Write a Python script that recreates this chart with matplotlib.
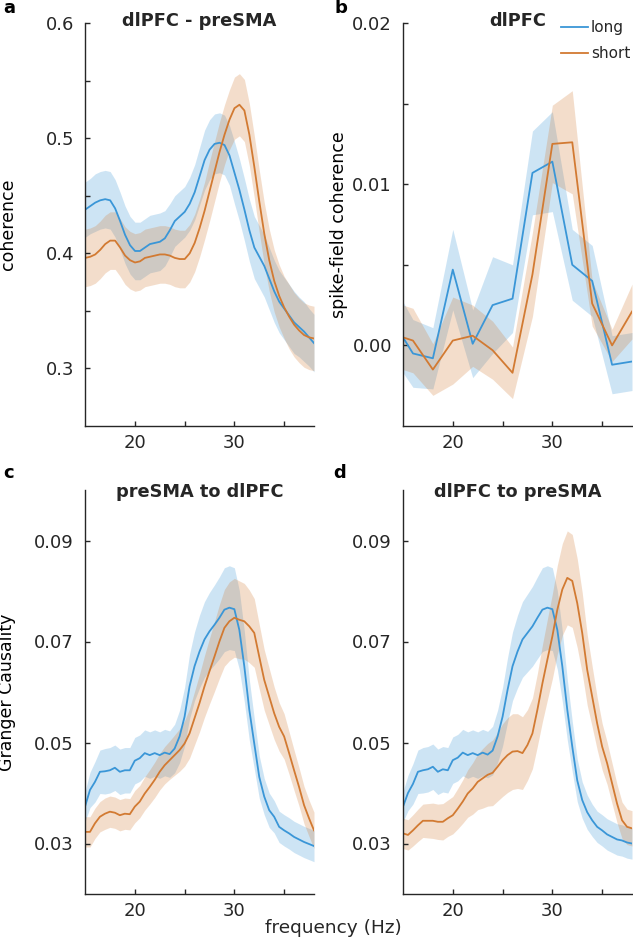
import numpy as np
import matplotlib
matplotlib.use('Agg')
import matplotlib.pyplot as plt

# colours
c_long = '#3a96d7'
c_short = '#d27a32'
c_txt = '#262626'

# ---- panel a: dlPFC - preSMA coherence ----
freq_a = np.arange(15, 38.01, 0.5)
coh_long = [0.438, 0.441, 0.444, 0.446, 0.447, 0.446, 0.439, 0.428, 0.416, 0.407,
            0.402, 0.402, 0.405, 0.408, 0.409, 0.410, 0.413, 0.420, 0.428, 0.432,
            0.436, 0.443, 0.453, 0.467, 0.481, 0.490, 0.495, 0.496, 0.494, 0.485,
            0.470, 0.455, 0.438, 0.420, 0.405, 0.397, 0.389, 0.378, 0.367, 0.358,
            0.352, 0.346, 0.340, 0.336, 0.332, 0.327, 0.322]
coh_long_err = [0.024, 0.024, 0.025, 0.025, 0.025, 0.025, 0.025, 0.025, 0.025, 0.025,
                0.025, 0.025, 0.025, 0.025, 0.025, 0.025, 0.024, 0.023, 0.022, 0.022,
                0.022, 0.023, 0.024, 0.025, 0.026, 0.026, 0.026, 0.026, 0.026, 0.026,
                0.027, 0.027, 0.027, 0.027, 0.027, 0.027, 0.027, 0.027, 0.027, 0.027,
                0.027, 0.027, 0.027, 0.026, 0.026, 0.025, 0.025]
coh_short = [0.396, 0.397, 0.399, 0.403, 0.408, 0.411, 0.411, 0.405, 0.398, 0.394,
             0.392, 0.393, 0.396, 0.397, 0.398, 0.399, 0.399, 0.398, 0.396, 0.395,
             0.395, 0.400, 0.409, 0.422, 0.437, 0.454, 0.471, 0.488, 0.503, 0.516,
             0.526, 0.529, 0.524, 0.503, 0.475, 0.445, 0.417, 0.394, 0.376, 0.363,
             0.353, 0.345, 0.338, 0.333, 0.329, 0.327, 0.326]
coh_short_err = [0.025, 0.025, 0.025, 0.025, 0.025, 0.025, 0.025, 0.025, 0.025, 0.025,
                 0.025, 0.025, 0.025, 0.025, 0.025, 0.025, 0.025, 0.025, 0.025, 0.025,
                 0.025, 0.025, 0.025, 0.025, 0.025, 0.026, 0.026, 0.026, 0.026, 0.026,
                 0.027, 0.027, 0.027, 0.027, 0.027, 0.027, 0.027, 0.027, 0.027, 0.027,
                 0.027, 0.028, 0.028, 0.028, 0.028, 0.028, 0.028]

# ---- panel b: dlPFC spike-field coherence ----
freq_b = np.arange(14, 38.01, 2)
sfc_long = [0.0015, -0.0005, -0.0008, 0.0047, 0.0001, 0.0025, 0.0029,
            0.0107, 0.0114, 0.0050, 0.0040, -0.0012, -0.0010]
sfc_long_err = [0.0023, 0.0021, 0.0019, 0.0025, 0.0021, 0.0030, 0.0021,
                0.0026, 0.0031, 0.0022, 0.0022, 0.0018, 0.0018]
sfc_short = [0.0007, 0.0003, -0.0015, 0.0003, 0.0006, -0.0003, -0.0017,
             0.0044, 0.0125, 0.0126, 0.0026, 0.0000, 0.0021]
sfc_short_err = [0.0020, 0.0020, 0.0016, 0.0027, 0.0019, 0.0018, 0.0016,
                 0.0026, 0.0024, 0.0032, 0.0014, 0.0010, 0.0017]

# ---- panels c/d: Granger causality ----
freq_gc = np.arange(15, 38.01, 0.5)
gc_pre_long = [0.0373, 0.0406, 0.0422, 0.0442, 0.0443, 0.0445, 0.0450, 0.0442, 0.0445, 0.0445,
               0.0464, 0.0469, 0.0479, 0.0475, 0.0479, 0.0475, 0.0480, 0.0477, 0.0488, 0.0512,
               0.0551, 0.0611, 0.0651, 0.0680, 0.0704, 0.0720, 0.0733, 0.0747, 0.0763, 0.0767,
               0.0764, 0.0723, 0.0651, 0.0565, 0.0498, 0.0432, 0.0393, 0.0366, 0.0353, 0.0333,
               0.0326, 0.0320, 0.0313, 0.0308, 0.0303, 0.0299, 0.0295]
gc_pre_short = [0.0323, 0.0323, 0.0340, 0.0353, 0.0359, 0.0363, 0.0361, 0.0356, 0.0359, 0.0358,
                0.0373, 0.0383, 0.0399, 0.0412, 0.0426, 0.0442, 0.0455, 0.0465, 0.0475, 0.0485,
                0.0498, 0.0518, 0.0548, 0.0578, 0.0611, 0.0641, 0.0670, 0.0700, 0.0727, 0.0740,
                0.0747, 0.0743, 0.0740, 0.0730, 0.0717, 0.0670, 0.0624, 0.0591, 0.0558, 0.0531,
                0.0512, 0.0479, 0.0445, 0.0412, 0.0376, 0.0350, 0.0326]
gc_dl_long = [0.0373, 0.0400, 0.0418, 0.0442, 0.0445, 0.0447, 0.0452, 0.0442, 0.0447, 0.0445,
              0.0465, 0.0470, 0.0480, 0.0475, 0.0479, 0.0475, 0.0480, 0.0476, 0.0484, 0.0512,
              0.0551, 0.0604, 0.0651, 0.0680, 0.0704, 0.0717, 0.0730, 0.0747, 0.0763, 0.0767,
              0.0764, 0.0723, 0.0651, 0.0565, 0.0492, 0.0425, 0.0386, 0.0362, 0.0346, 0.0333,
              0.0326, 0.0318, 0.0313, 0.0308, 0.0306, 0.0302, 0.0300]
gc_dl_short = [0.0320, 0.0317, 0.0326, 0.0336, 0.0345, 0.0345, 0.0345, 0.0343, 0.0343, 0.0350,
               0.0356, 0.0369, 0.0383, 0.0399, 0.0409, 0.0422, 0.0429, 0.0436, 0.0440, 0.0452,
               0.0465, 0.0475, 0.0482, 0.0483, 0.0479, 0.0495, 0.0518, 0.0565, 0.0617, 0.0664,
               0.0710, 0.0763, 0.0803, 0.0826, 0.0820, 0.0776, 0.0717, 0.0644, 0.0591, 0.0538,
               0.0492, 0.0459, 0.0419, 0.0379, 0.0346, 0.0333, 0.0330]
gc_long_err = [0.0030, 0.0035, 0.0040, 0.0043, 0.0045, 0.0045, 0.0045, 0.0045, 0.0045, 0.0045,
               0.0046, 0.0046, 0.0046, 0.0046, 0.0046, 0.0046, 0.0046, 0.0046, 0.0048, 0.0052,
               0.0058, 0.0064, 0.0068, 0.0072, 0.0075, 0.0077, 0.0079, 0.0081, 0.0083, 0.0083,
               0.0082, 0.0078, 0.0070, 0.0060, 0.0050, 0.0042, 0.0036, 0.0034, 0.0032, 0.0031,
               0.0031, 0.0031, 0.0031, 0.0031, 0.0031, 0.0031, 0.0031]
gc_pre_short_err = [0.0030, 0.0030, 0.0030, 0.0030, 0.0031, 0.0031, 0.0031, 0.0031, 0.0031, 0.0031,
                    0.0032, 0.0032, 0.0033, 0.0034, 0.0035, 0.0036, 0.0037, 0.0038, 0.0040, 0.0042,
                    0.0045, 0.0049, 0.0053, 0.0057, 0.0061, 0.0065, 0.0069, 0.0073, 0.0076, 0.0078,
                    0.0078, 0.0077, 0.0075, 0.0072, 0.0068, 0.0064, 0.0060, 0.0056, 0.0052, 0.0048,
                    0.0045, 0.0042, 0.0040, 0.0038, 0.0037, 0.0036, 0.0036]
gc_dl_short_err = [0.0030, 0.0030, 0.0031, 0.0032, 0.0033, 0.0034, 0.0035, 0.0035, 0.0036, 0.0036,
                   0.0037, 0.0040, 0.0043, 0.0047, 0.0051, 0.0055, 0.0059, 0.0062, 0.0065, 0.0068,
                   0.0072, 0.0074, 0.0075, 0.0074, 0.0072, 0.0070, 0.0070, 0.0072, 0.0076, 0.0080,
                   0.0084, 0.0088, 0.0091, 0.0093, 0.0092, 0.0088, 0.0080, 0.0070, 0.0060, 0.0052,
                   0.0046, 0.0042, 0.0040, 0.0038, 0.0036, 0.0035, 0.0035]

plt.rcParams['font.family'] = 'DejaVu Sans'
plt.rcParams['text.color'] = c_txt

fig = plt.figure(figsize=(6.33, 9.4), dpi=100)
W, H = 633.0, 940.0


def make_ax(l, r, t, b):
    return fig.add_axes([l / W, 1 - b / H, (r - l) / W, (b - t) / H])


def band(ax, x, m, e, col, label=None):
    m = np.array(m)
    e = np.array(e)
    ax.fill_between(x, m - e, m + e, color=col, alpha=0.25, lw=0)
    ax.plot(x, m, color=col, lw=1.3, label=label)


def style(ax, yticks, ylabels, ylim):
    for s in ['top', 'right']:
        ax.spines[s].set_visible(False)
    for s in ['left', 'bottom']:
        ax.spines[s].set_color(c_txt)
        ax.spines[s].set_linewidth(1.0)
    ax.set_xlim(15, 38)
    ax.set_ylim(*ylim)
    ax.set_xticks([20, 25, 30, 35])
    ax.set_xticklabels(['20', '', '30', ''])
    ax.set_yticks(yticks)
    ax.set_yticklabels(ylabels)
    ax.tick_params(direction='in', length=3.5, width=1.0, colors=c_txt,
                   labelsize=13)
    ax.tick_params(axis='y', pad=8)
    ax.tick_params(axis='x', pad=6)


title_fs = 12.8

# panel a
ax_a = make_ax(85.3, 314, 23, 426)
band(ax_a, freq_a, coh_long, coh_long_err, c_long)
band(ax_a, freq_a, coh_short, coh_short_err, c_short)
style(ax_a, [0.3, 0.35, 0.4, 0.45, 0.5, 0.55, 0.6],
      ['0.3', '', '0.4', '', '0.5', '', '0.6'], (0.25, 0.6))
ax_a.set_ylabel('coherence', fontsize=12.5)
ax_a.yaxis.set_label_coords(-0.30, 0.5)
ax_a.text(0.5, 1.005, 'dlPFC - preSMA', transform=ax_a.transAxes,
          ha='center', va='center', fontsize=title_fs, fontweight='bold')

# panel b
ax_b = make_ax(403, 632, 23, 426)
band(ax_b, freq_b, sfc_long, sfc_long_err, c_long, 'long')
band(ax_b, freq_b, sfc_short, sfc_short_err, c_short, 'short')
style(ax_b, [0.0, 0.005, 0.01, 0.015, 0.02],
      ['0.00', '', '0.01', '', '0.02'], (-0.005, 0.02))
ax_b.set_ylabel('spike-field coherence', fontsize=12.5)
ax_b.yaxis.set_label_coords(-0.24, 0.5)
ax_b.text(0.5, 1.005, 'dlPFC', transform=ax_b.transAxes,
          ha='center', va='center', fontsize=title_fs, fontweight='bold')
ax_b.legend(loc='upper left', bbox_to_anchor=((561 - 403) / 229.0, 1.007),
            frameon=False, fontsize=11, handlelength=1.75, handletextpad=0.2,
            borderpad=0, borderaxespad=0, labelspacing=0.7)

# panel c
ax_c = make_ax(85, 314, 490, 894)
band(ax_c, freq_gc, gc_pre_long, gc_long_err, c_long)
band(ax_c, freq_gc, gc_pre_short, gc_pre_short_err, c_short)
style(ax_c, [0.03, 0.05, 0.07, 0.09], ['0.03', '0.05', '0.07', '0.09'], (0.02, 0.1))
ax_c.set_ylabel('Granger Causality', fontsize=12.5)
ax_c.yaxis.set_label_coords(-0.30, 0.5)
ax_c.text(0.5, 0.995, 'preSMA to dlPFC', transform=ax_c.transAxes,
          ha='center', va='center', fontsize=title_fs, fontweight='bold')

# panel d
ax_d = make_ax(403, 632, 490, 894)
band(ax_d, freq_gc, gc_dl_long, gc_long_err, c_long)
band(ax_d, freq_gc, gc_dl_short, gc_dl_short_err, c_short)
style(ax_d, [0.03, 0.05, 0.07, 0.09], ['0.03', '0.05', '0.07', '0.09'], (0.02, 0.1))
ax_d.text(0.5, 0.995, 'dlPFC to preSMA', transform=ax_d.transAxes,
          ha='center', va='center', fontsize=title_fs, fontweight='bold')

fig.text(333 / W, 1 - 928 / H, 'frequency (Hz)', ha='center', va='center',
         fontsize=13.3)

# panel letters
for lab, x, y in [('a', 9, 8), ('b', 341, 8), ('c', 9, 473), ('d', 340, 473)]:
    fig.text(x / W, 1 - y / H, lab, ha='center', va='center', fontsize=13,
             fontweight='bold', color='black')

fig.savefig('out.png', dpi=100)
